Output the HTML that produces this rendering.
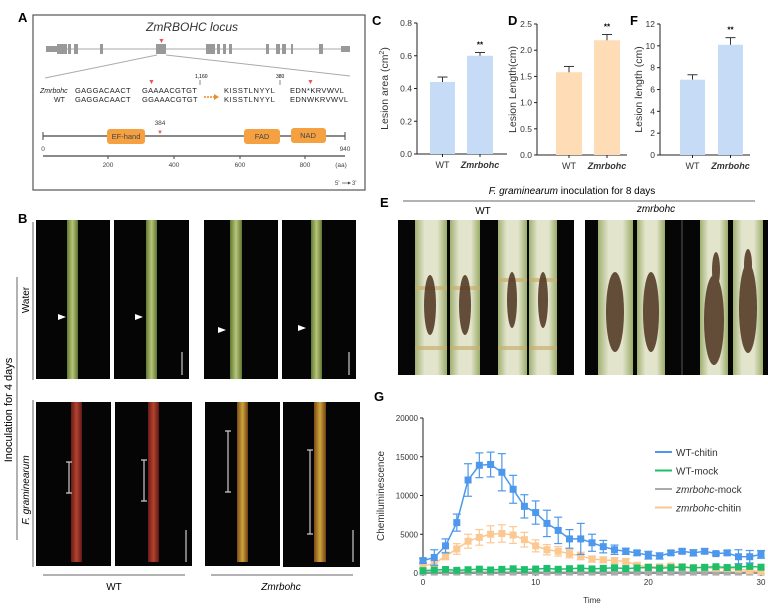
<!DOCTYPE html>
<html><head><meta charset="utf-8"><style>
body{margin:0;background:#fff}
svg{display:block;font-family:"Liberation Sans",Arial,sans-serif}
</style></head><body>
<svg id="s" width="768" height="611" viewBox="0 0 768 611" xmlns="http://www.w3.org/2000/svg">
<defs>
<linearGradient id="gs" x1="0" x2="1"><stop offset="0" stop-color="#5f7a30"/><stop offset=".5" stop-color="#b9c47a"/><stop offset="1" stop-color="#5d7630"/></linearGradient>
<linearGradient id="gr" x1="0" x2="1"><stop offset="0" stop-color="#6a1a16"/><stop offset=".5" stop-color="#b2442f"/><stop offset="1" stop-color="#611815"/></linearGradient>
<linearGradient id="gy" x1="0" x2="1"><stop offset="0" stop-color="#7a4a16"/><stop offset=".5" stop-color="#cfa43c"/><stop offset="1" stop-color="#6d4014"/></linearGradient>
<linearGradient id="ge" x1="0" x2="1"><stop offset="0" stop-color="#a0b070"/><stop offset=".3" stop-color="#e2e4cc"/><stop offset=".7" stop-color="#e2e4cc"/><stop offset="1" stop-color="#9aac68"/></linearGradient>
</defs>
<!-- Panel A -->
<text x="18" y="22" font-size="13" font-weight="bold">A</text>
<rect x="33" y="15" width="332" height="175" fill="#fff" stroke="#555" stroke-width="1.2"/>
<text x="192" y="31" font-size="12" font-style="italic" text-anchor="middle" fill="#333">ZmRBOHC locus</text>
<line x1="46" y1="49" x2="350" y2="49" stroke="#aaa" stroke-width="1"/>
<g fill="#999">
<rect x="46" y="46" width="12" height="6"/><rect x="57" y="44" width="10" height="10"/><rect x="68" y="44" width="3" height="10"/><rect x="74" y="44" width="4" height="10"/><rect x="100" y="44" width="3" height="10"/>
<rect x="156" y="44" width="10" height="10"/><rect x="206" y="44" width="9" height="10"/><rect x="217" y="44" width="3" height="10"/><rect x="223" y="44" width="3" height="10"/><rect x="229" y="44" width="3" height="10"/>
<rect x="266" y="44" width="3" height="10"/><rect x="276" y="44" width="4" height="10"/><rect x="282" y="44" width="4" height="10"/><rect x="291" y="44" width="2" height="10"/><rect x="319" y="44" width="4" height="10"/><rect x="341" y="46" width="9" height="6"/>
</g>
<text x="158" y="43" font-size="7" fill="#e55">▼</text>
<line x1="157" y1="55" x2="45" y2="78" stroke="#aaa"/><line x1="166" y1="55" x2="350" y2="76" stroke="#aaa"/>
<g font-size="7.5" fill="#222">
<text x="40" y="93" font-style="italic" font-size="7">Zmrbohc</text><text x="54" y="102" font-size="7">WT</text>
<text x="75" y="93" letter-spacing=".3">GAGGACAACT</text><text x="75" y="102" letter-spacing=".3">GAGGACAACT</text>
<text x="142" y="93" letter-spacing=".3">GAAAACGTGT</text><text x="142" y="102" letter-spacing=".3">GGAAACGTGT</text>
<text x="224" y="93" letter-spacing=".6">KISSTLNYYL</text><text x="224" y="102" letter-spacing=".6">KISSTLNYYL</text>
<text x="290" y="93" letter-spacing=".4">EDN*KRVWVL</text><text x="290" y="102" letter-spacing=".4">EDNWKRVWVL</text>
</g>
<text x="148" y="84" font-size="7" fill="#e55">▼</text><text x="307" y="84" font-size="7" fill="#e55">▼</text>
<text x="195" y="78" font-size="5">1,160</text><line x1="200" y1="80" x2="200" y2="85" stroke="#333" stroke-width=".6"/>
<text x="276" y="78" font-size="5">380</text><line x1="280" y1="80" x2="280" y2="85" stroke="#333" stroke-width=".6"/>
<line x1="204" y1="97" x2="214" y2="97" stroke="#f08a24" stroke-width="1.5" stroke-dasharray="2,1"/><path d="M214 94 L219 97 L214 100Z" fill="#f08a24"/>
<line x1="43" y1="136" x2="345" y2="136" stroke="#444" stroke-width="1.2"/>
<line x1="43" y1="132" x2="43" y2="140" stroke="#444"/><line x1="345" y1="132" x2="345" y2="140" stroke="#444"/>
<g fill="#f5a142"><rect x="107" y="129" width="38" height="15" rx="3"/><rect x="244" y="129" width="36" height="15" rx="3"/><rect x="291" y="128" width="35" height="15" rx="3"/></g>
<g font-size="7.5" fill="#444" text-anchor="middle"><text x="126" y="139">EF-hand</text><text x="262" y="139">FAD</text><text x="308" y="138">NAD</text></g>
<text x="160" y="125" font-size="6.5" fill="#444" text-anchor="middle">384</text><text x="157" y="134" font-size="6" fill="#e55">▼</text>
<g font-size="6.5" fill="#444" text-anchor="middle"><text x="43" y="151">0</text><text x="345" y="151">940</text>
<text x="108" y="167">200</text><text x="174" y="167">400</text><text x="240" y="167">600</text><text x="305" y="167">800</text><text x="341" y="167">(aa)</text></g>
<line x1="43" y1="156" x2="345" y2="156" stroke="#444" stroke-width="1.2"/>
<g stroke="#444"><line x1="108" y1="156" x2="108" y2="159"/><line x1="174" y1="156" x2="174" y2="159"/><line x1="240" y1="156" x2="240" y2="159"/><line x1="305" y1="156" x2="305" y2="159"/></g>
<text x="335" y="185" font-size="6" fill="#444">5'</text><line x1="342" y1="183" x2="349" y2="183" stroke="#444" stroke-width=".7"/><path d="M348 181.5 L351 183 L348 184.5Z" fill="#444"/><text x="352" y="185" font-size="6" fill="#444">3'</text>
<!-- Panels C D F -->
<g id="bars"></g>
<!-- Panel B -->
<text x="18" y="223" font-size="13" font-weight="bold">B</text>
<g fill="#050505">
<rect x="36" y="220" width="74" height="159"/><rect x="114" y="220" width="75" height="159"/><rect x="204" y="220" width="74" height="159"/><rect x="282" y="220" width="74" height="159"/>
<rect x="36" y="402" width="75" height="164"/><rect x="115" y="402" width="77" height="164"/><rect x="205" y="402" width="75" height="164"/><rect x="283" y="402" width="77" height="165"/>
</g>
<g fill="url(#gs)"><rect x="67" y="220" width="11" height="159"/><rect x="146" y="220" width="11" height="159"/><rect x="230" y="220" width="12" height="159"/><rect x="311" y="220" width="11" height="159"/></g>
<g fill="url(#gr)"><rect x="71" y="402" width="11" height="160"/><rect x="148" y="402" width="11" height="160"/></g>
<g fill="url(#gy)"><rect x="237" y="402" width="11" height="160"/><rect x="314" y="402" width="12" height="160"/></g>
<g fill="#fff"><path d="M58 314 L66 317 L58 320Z"/><path d="M135 314 L143 317 L135 320Z"/><path d="M218 327 L226 330 L218 333Z"/><path d="M298 325 L306 328 L298 331Z"/></g>
<g stroke="#ccc" stroke-width="1.2"><line x1="182" y1="352" x2="182" y2="375"/><line x1="349" y1="352" x2="349" y2="375"/><line x1="186" y1="530" x2="186" y2="562"/><line x1="353" y1="530" x2="353" y2="562"/>
<path d="M66 462 h6 M69 462 v31 M66 493 h6"/><path d="M141 460 h6 M144 460 v41 M141 501 h6"/><path d="M225 431 h6 M228 431 v61 M225 492 h6"/><path d="M307 450 h6 M310 450 v84 M307 534 h6"/></g>
<g stroke="#666"><line x1="33" y1="222" x2="33" y2="380"/><line x1="33" y1="400" x2="33" y2="567"/><line x1="17" y1="277" x2="17" y2="540"/>
<line x1="43" y1="575" x2="185" y2="575"/><line x1="211" y1="575" x2="353" y2="575"/></g>
<text transform="translate(29,300) rotate(-90)" font-size="10" text-anchor="middle">Water</text>
<text transform="translate(29,490) rotate(-90)" font-size="10" text-anchor="middle"><tspan font-style="italic">F. graminearum</tspan></text>
<text transform="translate(12,410) rotate(-90)" font-size="11" text-anchor="middle">Inoculation for 4 days</text>
<text x="114" y="590" font-size="10" text-anchor="middle">WT</text><text x="281" y="590" font-size="10" font-style="italic" text-anchor="middle">Zmrbohc</text>
<!-- Panel E -->
<text x="380" y="207" font-size="13" font-weight="bold">E</text>
<text x="572" y="194" font-size="10" text-anchor="middle"><tspan font-style="italic">F. graminearum</tspan> inoculation for 8 days</text>
<line x1="403" y1="201" x2="755" y2="201" stroke="#666"/>
<text x="483" y="214" font-size="10" text-anchor="middle">WT</text><text x="656" y="212" font-size="10" font-style="italic" text-anchor="middle">zmrbohc</text>
<rect x="398" y="220" width="176" height="155" fill="#060606"/><rect x="585" y="220" width="183" height="155" fill="#060606"/>
<line x1="682" y1="220" x2="682" y2="375" stroke="#555"/>
<g fill="url(#ge)"><rect x="415" y="220" width="32" height="155"/><rect x="450" y="220" width="30" height="155"/><rect x="498" y="220" width="29" height="155"/><rect x="529" y="220" width="28" height="155"/>
<rect x="598" y="220" width="35" height="155"/><rect x="637" y="220" width="28" height="155"/><rect x="700" y="220" width="28" height="155"/><rect x="733" y="220" width="30" height="155"/></g>
<g fill="#c8b070" opacity=".7"><rect x="415" y="286" width="32" height="4"/><rect x="450" y="286" width="30" height="4"/><rect x="498" y="278" width="29" height="4"/><rect x="529" y="278" width="28" height="4"/><rect x="415" y="346" width="32" height="4"/><rect x="450" y="346" width="30" height="4"/><rect x="498" y="346" width="29" height="4"/><rect x="529" y="346" width="28" height="4"/></g>
<g fill="#4e3320" opacity=".85"><ellipse cx="430" cy="305" rx="6" ry="30"/><ellipse cx="465" cy="305" rx="6" ry="30"/><ellipse cx="512" cy="300" rx="5" ry="28"/><ellipse cx="543" cy="300" rx="5" ry="28"/>
<ellipse cx="615" cy="312" rx="9" ry="40"/><ellipse cx="651" cy="312" rx="8" ry="40"/><ellipse cx="714" cy="320" rx="10" ry="45"/><ellipse cx="748" cy="308" rx="9" ry="45"/><ellipse cx="716" cy="270" rx="4" ry="18"/><ellipse cx="748" cy="265" rx="4" ry="16"/></g>
<!-- Panel G -->
<text x="374" y="401" font-size="13" font-weight="bold">G</text>
<g id="g"></g>
</svg>
<script>
var NS="http://www.w3.org/2000/svg";
function el(p,t,a,txt){var e=document.createElementNS(NS,t);for(var k in a)e.setAttribute(k,a[k]);if(txt!=null)e.textContent=txt;p.appendChild(e);return e;}
var B=document.getElementById('bars');
function bar(lbl,lx,ax,y0,y1,max,ticks,fmt,color,bars,ylab,ylx){
 var h=y0-y1;el(B,'text',{x:lx,y:25,'font-size':13,'font-weight':'bold'},lbl);
 el(B,'line',{x1:ax,y1:y1,x2:ax,y2:y0,stroke:'#222'});
 el(B,'line',{x1:ax,y1:y0,x2:ax+90,y2:y0,stroke:'#222'});
 ticks.forEach(function(t){var y=y0-t/max*h;el(B,'line',{x1:ax-3,y1:y,x2:ax,y2:y,stroke:'#222'});el(B,'text',{x:ax-5,y:y+3,'font-size':8.5,'text-anchor':'end',fill:'#333'},fmt(t));});
 bars.forEach(function(b,i){var y=y0-b[2]/max*h,ye=y0-(b[2]+b[3])/max*h,cx=(b[0]+b[1])/2;
  el(B,'rect',{x:b[0],y:y,width:b[1]-b[0],height:y0-y,fill:color});
  el(B,'line',{x1:cx,y1:y,x2:cx,y2:ye,stroke:'#333'});el(B,'line',{x1:cx-5,y1:ye,x2:cx+5,y2:ye,stroke:'#333'});
  el(B,'line',{x1:cx,y1:y0,x2:cx,y2:y0+3,stroke:'#222'});
  el(B,'text',{x:cx,y:y0+14,'font-size':9,'text-anchor':'middle','font-style':i?'italic':'normal','font-weight':i?'bold':'normal',fill:'#333'},i?'Zmrbohc':'WT');
  if(i)el(B,'text',{x:cx,y:ye-5,'font-size':8,'text-anchor':'middle','font-weight':'bold'},'**');});
 var t=el(B,'text',{transform:'translate('+ylx+','+((y0+y1)/2)+') rotate(-90)','font-size':10.5,'text-anchor':'middle',fill:'#333'});t.innerHTML=ylab;
}
bar('C',372,417,154,23,0.8,[0,0.2,0.4,0.6,0.8],function(v){return v.toFixed(1)},'#c6dcf6',[[430,455,0.44,0.03],[467,493,0.6,0.02]],'Lesion area (cm<tspan font-size="7" dy="-4">2</tspan><tspan dy="4">)</tspan>',388);
bar('D',508,537,155,24,2.5,[0,0.5,1,1.5,2,2.5],function(v){return v.toFixed(1)},'#fddcb6',[[556,582,1.58,0.11],[594,620,2.19,0.11]],'Lesion Length(cm)',516);
bar('F',630,660,155,24,12,[0,2,4,6,8,10,12],function(v){return v},'#c6dcf6',[[680,705,6.9,0.45],[718,743,10.1,0.65]],'Lesion length (cm)',642);
var G=document.getElementById('g');var x0=423,x1=761,y0=573,y1=418;
function X(t){return x0+t/30*(x1-x0)}function Y(v){return y0-v/20000*(y0-y1)}
el(G,'line',{x1:x0,y1:y1,x2:x0,y2:y0,stroke:'#222'});el(G,'line',{x1:x0,y1:y0,x2:x1,y2:y0,stroke:'#222'});
[0,5000,10000,15000,20000].forEach(function(v){el(G,'line',{x1:x0-3,y1:Y(v),x2:x0,y2:Y(v),stroke:'#222'});el(G,'text',{x:x0-5,y:Y(v)+3,'font-size':8,'text-anchor':'end',fill:'#333'},v);});
[0,10,20,30].forEach(function(t){el(G,'line',{x1:X(t),y1:y0,x2:X(t),y2:y0+3,stroke:'#222'});el(G,'text',{x:X(t),y:y0+12,'font-size':8,'text-anchor':'middle',fill:'#333'},t);});
el(G,'text',{x:592,y:603,'font-size':8,'text-anchor':'middle',fill:'#333'},'Time');
el(G,'text',{transform:'translate(384,496) rotate(-90)','font-size':10,'text-anchor':'middle',fill:'#333'},'Chemiluminescence');
var wc=[1600,2000,3500,6500,12000,13900,14000,13000,10800,8600,7800,6400,5500,4400,4400,3900,3400,3000,2800,2600,2300,2200,2600,2800,2600,2800,2500,2600,2100,2100,2400];
var wce=[300,1000,900,1100,2100,1600,1600,2400,1800,1500,1500,1700,1700,1200,2000,1100,800,600,400,300,500,400,300,300,400,300,200,300,900,800,500];
var zc=[900,1200,2200,3100,4100,4600,5000,5100,4900,4300,3500,3000,2800,2500,2200,1800,1700,1600,1500,1000,800,800,900,800,700,700,600,600,500,300,200];
var wm=[],zm=[];for(var i=0;i<=30;i++){wm.push(300+i*15+(i%3)*60);zm.push(120);}
function series(d,e,c){var pts=d.map(function(v,i){return X(i)+','+Y(v)}).join(' ');
 d.forEach(function(v,i){if(e){var ey=e[i];el(G,'line',{x1:X(i),y1:Y(v-ey),x2:X(i),y2:Y(v+ey),stroke:c,'stroke-width':1.2});el(G,'line',{x1:X(i)-4,y1:Y(v+ey),x2:X(i)+4,y2:Y(v+ey),stroke:c,'stroke-width':1.2});el(G,'line',{x1:X(i)-4,y1:Y(v-ey),x2:X(i)+4,y2:Y(v-ey),stroke:c,'stroke-width':1.2});}});
 el(G,'polyline',{points:pts,fill:'none',stroke:c,'stroke-width':1.5});
 d.forEach(function(v,i){el(G,'rect',{x:X(i)-3.5,y:Y(v)-3.5,width:7,height:7,fill:c});});}
series(zm,null,'#aaaaaa');
series(zc,zc.map(function(v){return Math.max(300,v*0.22)}),'#fbc892');
series(wm,null,'#1dbf6a');
series(wc,wce,'#4d98ec');
var L=[['#4d98ec','WT-chitin',0],['#1dbf6a','WT-mock',0],['#aaaaaa','zmrbohc-mock',1],['#fbc892','zmrbohc-chitin',1]];
L.forEach(function(l,i){var y=452+i*18.5;el(G,'line',{x1:655,y1:y,x2:672,y2:y,stroke:l[0],'stroke-width':2});
 var t=el(G,'text',{x:676,y:y+4,'font-size':10,fill:'#333'});t.innerHTML=l[2]?'<tspan font-style="italic">zmrbohc</tspan>'+l[1].slice(7):l[1];});
</script>
</body></html>
